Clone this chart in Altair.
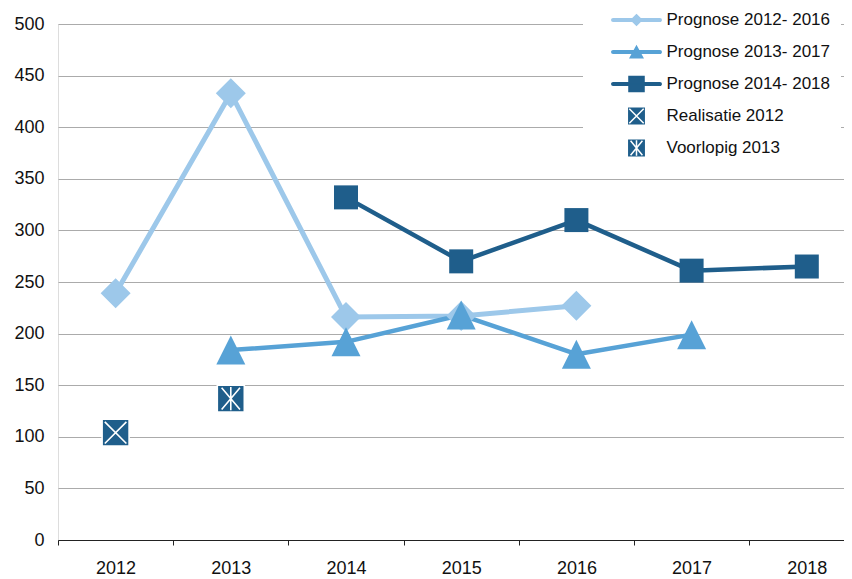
import altair as alt
import pandas as pd

# ---------------- data ----------------
series_names = ["Prognose 2012- 2016", "Prognose 2013- 2017", "Prognose 2014- 2018",
                "Realisatie 2012", "Voorlopig 2013"]

p1_years = [2012, 2013, 2014, 2015, 2016]
p1_vals = [239, 433, 216, 217, 227]
p2_years = [2013, 2014, 2015, 2016, 2017]
p2_vals = [184, 192, 218, 180, 199]
p3_years = [2014, 2015, 2016, 2017, 2018]
p3_vals = [332, 270, 310, 261, 265]
real_years = [2012]
real_vals = [104]
voor_years = [2013]
voor_vals = [137]

year_labels = [2012, 2013, 2014, 2015, 2016, 2017, 2018]
y_ticks = [0, 50, 100, 150, 200, 250, 300, 350, 400, 450, 500]

# ---------------- styling ----------------
fills = ["#9dc8ea", "#57a2d6", "#1f5e8b", "#1f5e8b", "#1f5e8b"]
strokes = ["#9dc8ea", "#57a2d6", "#1f5e8b", "#ffffff", "#ffffff"]
line_widths = [5, 4.5, 4.5]

X_PATH = "M-1,-1H1V1H-1Z M-0.8,-0.8L0.8,0.8 M0.8,-0.8L-0.8,0.8"
AST_PATH = "M-1,-1H1V1H-1Z M-0.68,-0.8L0.68,0.8 M0.68,-0.8L-0.68,0.8 M0,-0.86V0.86"
plot_shapes = ["diamond", "M0,-1L1,1L-1,1Z", "square", X_PATH, AST_PATH]
plot_sizes = [900, 841, 576, 729, 729]
plot_strokew = [0, 0, 0, 1.6, 1.6]

PAD = " M0,-1.19L0,-1.19 M0,1.19L0,1.19"
LINE = ("M-2.92,-0.17L2.92,-0.17A0.17,0.17 0 0 1 2.92,0.17"
        "L-2.92,0.17A0.17,0.17 0 0 1 -2.92,-0.17Z")
leg_shapes = [
    LINE + " M-0.66,0L0,-0.66L0.66,0L0,0.66Z" + PAD,
    LINE + " M0,-0.72L0.78,0.72L-0.78,0.72Z" + PAD,
    LINE + " M-0.94,-0.94H0.94V0.94H-0.94Z" + PAD,
    "M-1.15,-1.15H1.15V1.15H-1.15Z M-0.9,-0.9L0.9,0.9 M0.9,-0.9L-0.9,0.9",
    "M-1.15,-1.15H1.15V1.15H-1.15Z M-0.74,-0.9L0.74,0.9 M0.74,-0.9L-0.74,0.9 M0,-0.98V0.98",
]

groups = [(series_names[0], p1_years, p1_vals),
          (series_names[1], p2_years, p2_vals),
          (series_names[2], p3_years, p3_vals),
          (series_names[3], real_years, real_vals),
          (series_names[4], voor_years, voor_vals)]
rows = []
for name, ys, vs in groups:
    for yr, v in zip(ys, vs):
        rows.append({"series": name, "year": yr, "value": v})
df = pd.DataFrame(rows)

FONT = "Liberation Sans"
TXT = "#111111"

PLOT_W = 786
band = 115.2
x_max = 2011.5 + PLOT_W / band
x_scale = alt.Scale(domain=[2011.5, x_max], nice=False, zero=False)
y_scale = alt.Scale(domain=[0, 500], nice=False)

x_enc = alt.X("year:Q", scale=x_scale, title=None,
              axis=alt.Axis(values=[y - 0.5 for y in year_labels], labelExpr="format(datum.value + 0.5, 'd')",
                            labelOffset=band / 2, grid=False, tickSize=5, tickColor="#222222",
                            domainColor="#222222", labelFontSize=18, labelFont=FONT, labelColor=TXT,
                            labelPadding=28, labelBaseline="alphabetic", labelFlush=False,
                            labelOverlap=False))
y_enc = alt.Y("value:Q", scale=y_scale, title=None,
              axis=alt.Axis(values=y_ticks, domain=False, ticks=False, grid=True, gridColor="#ababab",
                            gridWidth=1, labelFontSize=18, labelFont=FONT, labelColor=TXT,
                            labelPadding=14))

base = alt.Chart(df).encode(x=x_enc, y=y_enc)

layers = []
for i in range(3):
    layers.append(
        base.mark_line(color=fills[i], strokeWidth=line_widths[i], strokeJoin="round", strokeCap="round")
        .transform_filter(alt.datum.series == series_names[i])
    )
for i in range(5):
    layers.append(
        base.mark_point(filled=True, opacity=1, shape=plot_shapes[i], size=plot_sizes[i],
                        fill=fills[i], stroke=strokes[i], strokeWidth=plot_strokew[i])
        .transform_filter(alt.datum.series == series_names[i])
    )

legend = alt.Legend(title=None, orient="none", legendX=525, legendY=-23, padding=10,
                    fillColor="white", symbolSize=256, symbolStrokeWidth=1.5, symbolOpacity=1,
                    symbolOffset=34.5, labelOffset=21, rowPadding=6, labelFontSize=17,
                    labelFont=FONT, labelColor=TXT, labelLimit=300)

legend_layer = base.mark_point(filled=True, opacity=0).encode(
    fill=alt.Fill("series:N", scale=alt.Scale(domain=series_names, range=fills), legend=legend),
    stroke=alt.Stroke("series:N", scale=alt.Scale(domain=series_names, range=strokes), legend=legend),
    shape=alt.Shape("series:N", scale=alt.Scale(domain=series_names, range=leg_shapes), legend=legend),
)
layers.append(legend_layer)

chart = alt.layer(*layers).properties(
    width=PLOT_W, height=516,
    autosize=alt.AutoSizeParams(type="none"),
    padding={"left": 50, "top": 16, "right": 0, "bottom": 42},
).configure_view(stroke=None).configure(background="white")

chart.save("out.html", embed_options={"renderer": "svg", "actions": False})
